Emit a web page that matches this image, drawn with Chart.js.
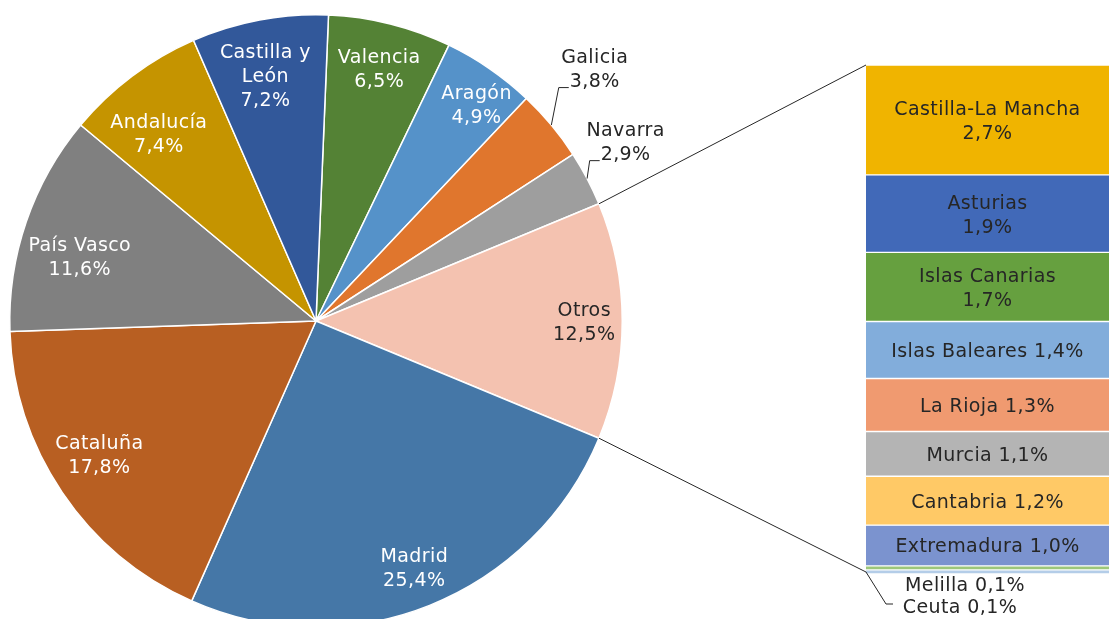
<!DOCTYPE html>
<html>
<head>
<meta charset="utf-8">
<script src="https://cdn.jsdelivr.net/npm/chart.js@4/dist/chart.umd.min.js"></script>
<style>
  html, body { margin: 0; padding: 0; background: #fff; overflow: hidden; }
  #wrap { position: relative; width: 1109px; height: 619px; overflow: hidden; }
  #pie { position: absolute; left: 0; top: 0; }
  #bar { position: absolute; left: 0; top: 0; }
</style>
</head>
<body>
<div id="wrap">
  <canvas id="pie" width="1109" height="642"></canvas>
  <canvas id="bar" width="1109" height="619"></canvas>
</div>
<script>
// Datos: distribución por comunidad autónoma (%)
const pieLabels = ['Valencia', 'Aragón', 'Galicia', 'Navarra', 'Otros', 'Madrid', 'Cataluña', 'País Vasco', 'Andalucía', 'Castilla y\nLeón'];
const pieValues = [6.5, 4.9, 3.8, 2.9, 12.5, 25.4, 17.8, 11.6, 7.4, 7.2];
const pieColors = ['#548235', '#5592c9', '#e0762d', '#9e9e9e', '#f4c2b0', '#4577a7', '#b85f22', '#808080', '#c59400', '#32589a'];

// Desglose de "Otros"
const barLabels = ['Castilla-La Mancha', 'Asturias', 'Islas Canarias', 'Islas Baleares', 'La Rioja', 'Murcia', 'Cantabria', 'Extremadura', 'Melilla', 'Ceuta'];
const barValues = [2.7, 1.9, 1.7, 1.4, 1.3, 1.1, 1.2, 1.0, 0.1, 0.1];
const barColors = ['#f0b400', '#4169b8', '#66a03f', '#82addb', '#f09a70', '#b4b4b4', '#ffc966', '#7b93cf', '#9dc77a', '#b4cde8'];

const OTROS = 4;
const FONT = '19px "DejaVu Sans"';
const DARK = '#262626';
const LINE_H = 24;

// posición de etiquetas: [factor de radio, desplazamiento de ángulo en grados]
const labelPlace = [[0.85, 0], [0.88, 2], [1.23, -2.5], [1.17, -2.5], [0.876, 0], [0.865, 0], [0.83, 2.5], [0.8, -3.5], [0.8, -3], [0.82, -1]];
const outside = [false, false, true, true, false, false, false, false, false, false];

const fmt = v => v.toFixed(1).replace('.', ',') + '%';

// Otros centrado a la derecha (90°)
const before = pieValues.slice(0, OTROS).reduce((a, b) => a + b, 0);
const total = pieValues.reduce((a, b) => a + b, 0);
const rotation = 90 - (before + pieValues[OTROS] / 2) / total * 360;

function setFont(ctx) {
    ctx.font = FONT;
    ctx.letterSpacing = '0.4px';
    ctx.textAlign = 'center';
    ctx.textBaseline = 'middle';
}

function drawLines(ctx, lines, x, y, color) {
    const top = y + 2 - (lines.length - 1) * LINE_H / 2;
    ctx.fillStyle = color;
    lines.forEach((l, i) => ctx.fillText(l, x, top + i * LINE_H));
}

const pieLabelPlugin = {
    id: 'pieLabels',
    afterDraw(chart) {
        const ctx = chart.ctx;
        const arcs = chart.getDatasetMeta(0).data;
        ctx.save();
        setFont(ctx);
        arcs.forEach((arc, i) => {
            const mid = (arc.startAngle + arc.endAngle) / 2;
            const a = mid + labelPlace[i][1] * Math.PI / 180;
            const r = arc.outerRadius * labelPlace[i][0];
            const x = arc.x + r * Math.cos(a);
            const y = arc.y + r * Math.sin(a);
            const lines = pieLabels[i].split('\n').concat([fmt(pieValues[i])]);
            const dark = outside[i] || i === OTROS;
            drawLines(ctx, lines, x, y, dark ? DARK : '#ffffff');
            if (outside[i]) {
                const w = ctx.measureText(lines[lines.length - 1]).width;
                const ly = y + LINE_H / 2 + 8;
                const lx = x - w / 2 - 1;
                const ex = arc.x + arc.outerRadius * Math.cos(mid);
                const ey = arc.y + arc.outerRadius * Math.sin(mid);
                ctx.strokeStyle = DARK;
                ctx.lineWidth = 1;
                ctx.beginPath();
                ctx.moveTo(ex, ey);
                ctx.lineTo(lx - 10, ly);
                ctx.lineTo(lx, ly);
                ctx.stroke();
            }
        });
        ctx.restore();
    }
};

const pieChart = new Chart(document.getElementById('pie'), {
    type: 'pie',
    data: {
        labels: pieLabels,
        datasets: [{
            data: pieValues,
            backgroundColor: pieColors,
            borderColor: '#ffffff',
            borderWidth: 1.5
        }]
    },
    options: {
        responsive: false,
        animation: false,
        rotation: rotation,
        layout: { padding: { left: 9, top: 14, right: 486, bottom: 14 } },
        plugins: { legend: { display: false }, tooltip: { enabled: false } }
    },
    plugins: [pieLabelPlugin]
});

const barLabelPlugin = {
    id: 'barLabels',
    afterDraw(chart) {
        const ctx = chart.ctx;
        const area = chart.chartArea;
        ctx.save();
        setFont(ctx);

        let left = area.left;
        barLabels.forEach((name, i) => {
            const el = chart.getDatasetMeta(i).data[0];
            const top = Math.min(el.y, el.base), bot = Math.max(el.y, el.base);
            const h = bot - top;
            left = el.x - el.width / 2;
            const cx = el.x;
            if (h > 60) {
                drawLines(ctx, [name, fmt(barValues[i])], cx, (top + bot) / 2, DARK);
            } else if (h > 20) {
                drawLines(ctx, [name + ' ' + fmt(barValues[i])], cx, (top + bot) / 2, DARK);
            }
        });

        // etiquetas pequeñas (Melilla, Ceuta)
        const lastY = area.bottom;
        drawLines(ctx, [barLabels[8] + ' ' + fmt(barValues[8])], left + 99, lastY + 10, DARK);
        drawLines(ctx, [barLabels[9] + ' ' + fmt(barValues[9])], left + 94, lastY + 32, DARK);
        ctx.strokeStyle = DARK;
        ctx.lineWidth = 1;
        ctx.beginPath();
        ctx.moveTo(left, lastY - 2);
        ctx.lineTo(left + 20, lastY + 30);
        ctx.lineTo(left + 27, lastY + 30);
        ctx.stroke();

        // conectores con el sector "Otros"
        const arc = pieChart.getDatasetMeta(0).data[OTROS];
        const pc = pieChart.canvas;
        const ox = pc.offsetLeft, oy = pc.offsetTop;
        const p1 = [ox + arc.x + arc.outerRadius * Math.cos(arc.startAngle), oy + arc.y + arc.outerRadius * Math.sin(arc.startAngle)];
        const p2 = [ox + arc.x + arc.outerRadius * Math.cos(arc.endAngle), oy + arc.y + arc.outerRadius * Math.sin(arc.endAngle)];
        ctx.beginPath();
        ctx.moveTo(p1[0], p1[1]);
        ctx.lineTo(left, area.top);
        ctx.moveTo(p2[0], p2[1]);
        ctx.lineTo(left, area.bottom - 2);
        ctx.stroke();
        ctx.restore();
    }
};

new Chart(document.getElementById('bar'), {
    type: 'bar',
    data: {
        labels: [''],
        datasets: barLabels.map((name, i) => ({
            label: name,
            data: [barValues[i]],
            backgroundColor: barColors[i],
            borderColor: '#ffffff',
            borderWidth: { top: 1, bottom: 1, left: 0, right: 0 },
            borderSkipped: false,
            barPercentage: 1,
            categoryPercentage: 1
        }))
    },
    options: {
        responsive: false,
        animation: false,
        layout: { padding: { left: 866, top: 65, right: 0, bottom: 45 } },
        scales: {
            x: { display: false, stacked: true },
            y: { display: false, stacked: true, reverse: true, min: 0, max: 12.5 }
        },
        plugins: { legend: { display: false }, tooltip: { enabled: false } }
    },
    plugins: [barLabelPlugin]
});
</script>
</body>
</html>
